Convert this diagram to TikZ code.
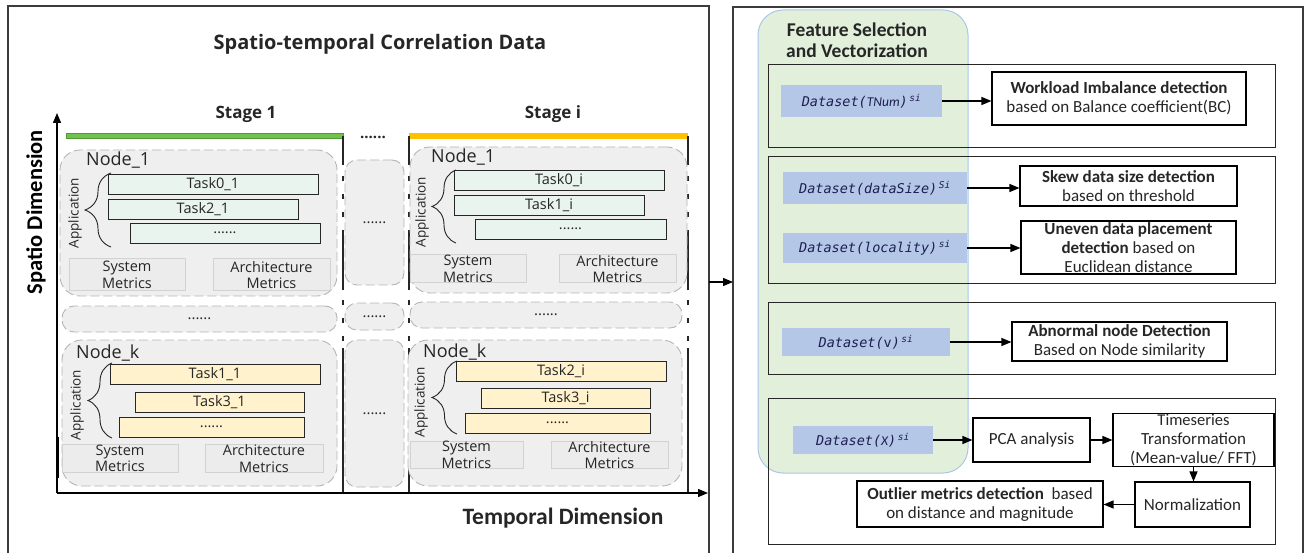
\documentclass[tikz,border=0pt]{standalone}
\usepackage{fontspec}
\setmainfont{Carlito}
\newfontfamily\os{Open Sans}
\newfontfamily\dm{DejaVu Sans Mono}
\usetikzlibrary{arrows.meta,decorations.pathreplacing}
\definecolor{gbf}{HTML}{EFEFEF}
\definecolor{gbd}{HTML}{B5B5B5}
\definecolor{taskg}{HTML}{E9F4EE}
\definecolor{tasky}{HTML}{FFF2CC}
\definecolor{metf}{HTML}{ECECEC}
\definecolor{metd}{HTML}{D2D2D2}
\definecolor{dsf}{HTML}{B4C7E7}
\definecolor{gpf}{HTML}{E2EFDA}
\definecolor{gpd}{HTML}{A9C8E8}
\definecolor{barg}{HTML}{72C34E}
\definecolor{bargd}{HTML}{4E9A35}
\definecolor{baro}{HTML}{FFC000}
\definecolor{dk}{HTML}{262626}
\newcommand\fs[2]{\fontsize{#1}{#2}\selectfont}
\newcommand\bx[6]{\node[#1,minimum width={(#4)-(#2)},minimum height={(#5)-(#3)}] (#6) at ({((#2)+(#4))/2},{((#3)+(#5))/2})}
\newcommand\ds[3]{{\dm\itshape Dataset(}#1{\dm\itshape)}\textsuperscript{\,\dm\itshape #2}}
\begin{document}
\begin{tikzpicture}[x=1pt,y=-1pt,
  gbox/.style={draw=gbd, fill=gbf, dash pattern=on 9pt off 4pt, line width=0.9pt, rounded corners=20pt, inner sep=0pt, font=\os\fs{15}{18}, text=dk},
  rbox/.style={gbox, rounded corners=12pt},
  task/.style={draw=black!85, line width=0.9pt, inner sep=0pt, font=\os\fs{14.5}{17}, text=dk},
  tg/.style={task, fill=taskg},
  ty/.style={task, fill=tasky},
  met/.style={draw=metd, fill=metf, line width=1pt, inner sep=0pt, align=center, font=\os\fs{14.5}{16.5}, text=dk},
  nlab/.style={anchor=base west, font=\os\fs{18}{20}, text=dk, inner sep=0pt},
  app/.style={rotate=90, font=\os\fs{13.5}{16}, text=dk, inner sep=0pt},
  brc/.style={draw=dk, line width=0.9pt, decorate, decoration={brace, amplitude=#1}},
  vl/.style={draw=dk, line width=1.3pt},
  vld/.style={vl, dash pattern=on 5pt off 13pt},
  arr/.style={draw=black, line width=1.2pt, -{Triangle[length=10pt,width=8pt]}},
  obox/.style={draw=dk, line width=1pt},
  wbox/.style={draw=black, fill=white, line width=1.1pt, inner sep=1pt, align=center, font=\fs{17}{19}, text=dk},
  dbox/.style={fill=dsf, inner sep=0pt, font=\fs{13.5}{15}, text=dk!80!blue}
]
\useasboundingbox (0,0) rectangle (1306,553);
% panels
\draw[draw=dk!90, line width=1.2pt] (8,570) -- (8,6) -- (709,6) -- (709,570);
\draw[draw=dk!90, line width=1.2pt] (733,570) -- (733,7) -- (1303,7) -- (1303,570);
% titles
\node[font=\os\bfseries\fs{20}{24}, text=dk] (title) at (380,44) {Spatio-temporal Correlation Data};
\node[font=\os\bfseries\fs{17}{20}, text=dk] (st1) at (246,114) {Stage 1};
\node[font=\os\bfseries\fs{17}{20}, text=dk] (sti) at (553,114) {Stage i};
\node[font=\bfseries\fs{22.5}{26}, rotate=90, text=black] (sdim) at (36,212) {Spatio Dimension};
\node[font=\bfseries\fs{23.5}{27}, text=dk] (tdim) at (563,518) {Temporal Dimension};
% axes
\coordinate (org) at (57,493);
\coordinate (ytop) at (57,113);
\coordinate (xend) at (708,493);
\draw[arr, line width=1.3pt] (org) -- (ytop);
\draw[arr, line width=1.3pt] (org) -- (xend);
\draw[draw=black, line width=3pt] (57,437) -- (57,478);
% bars
\draw[draw=bargd, fill=barg, line width=0.5pt] (66,133.5) rectangle (343,138.5);
\draw[draw=baro, fill=baro, line width=0.5pt] (409,133.5) rectangle (687,138.5);
% stage vertical lines
\foreach \xx in {343,409,688}{
  \draw[vl] (\xx,136) -- (\xx,165);
  \draw[vld] (\xx,176) -- (\xx,228);
  \draw[vl] (\xx,230) -- (\xx,290);
  \draw[vld] (\xx,300) -- (\xx,345);
  \draw[vl] (\xx,348) -- (\xx,492);
}
\node[font=\os\bfseries\fs{15}{18}, text=dk] (topdots) at (373,137) {......};
% ---------- Stage 1, Node_1
\bx{gbox}{60}{150}{337}{296}{n11} {};
\node[nlab] (l11) at (86,166) {Node\_1};
\bx{tg}{108}{174}{318}{194}{t01} {Task0\_1};
\bx{tg}{108}{199}{298}{219}{t21} {Task2\_1};
\bx{tg}{130}{223}{320}{243}{d11} {......};
\draw[brc=26pt] (111,247) -- (111,173);
\node[app] (a11) at (75,213) {Application};
\bx{met}{69}{259}{185}{291}{sm11} {System\\Metrics};
\bx{met}{213}{259}{330}{291}{am11} {Architecture\\Metrics};
% Stage 1 dots row
\bx{rbox}{62}{306}{337}{332}{r1} {......};
% Stage 1 Node_k
\bx{gbox}{62}{340}{337}{486}{nk1} {};
\node[nlab] (lk1) at (76,358) {Node\_k};
\bx{ty}{110}{364}{320}{384}{t11} {Task1\_1};
\bx{ty}{135}{392}{304}{412}{t31} {Task3\_1};
\bx{ty}{119}{417}{304}{437}{dk1} {......};
\draw[brc=24pt] (112,438) -- (112,363);
\node[app] (ak1) at (77,405) {Application};
\bx{met}{62}{445}{178}{472}{smk1} {System\\Metrics};
\bx{met}{205}{445}{323}{472}{amk1} {Architecture\\Metrics};
% middle column
\bx{rbox}{345}{160}{404}{285}{mc1} {......};
\bx{rbox}{345}{303}{404}{330}{mc2} {......};
\bx{rbox}{345}{340}{404}{487}{mc3} {......};
% ---------- Stage i, Node_1
\bx{gbox}{410}{147}{687}{293}{n1i} {};
\node[nlab] (l1i) at (431,163) {Node\_1};
\bx{tg}{454}{170}{664}{190}{t0i} {Task0\_i};
\bx{tg}{454}{195}{644}{215}{t1i} {Task1\_i};
\bx{tg}{475}{219}{666}{239}{d1i} {......};
\draw[brc=24pt] (456,243) -- (456,170);
\node[app] (a1i) at (422,212) {Application};
\bx{met}{410}{255}{526}{283}{sm1i} {System\\Metrics};
\bx{met}{559}{255}{676}{283}{am1i} {Architecture\\Metrics};
% Stage i dots row
\bx{rbox}{410}{302}{682}{328}{ri} {......};
% Stage i Node_k
\bx{gbox}{408}{340}{682}{486}{nki} {};
\node[nlab] (lki) at (423,357) {Node\_k};
\bx{ty}{456}{361}{666}{381}{t2i} {Task2\_i};
\bx{ty}{481}{388}{650}{408}{t3i} {Task3\_i};
\bx{ty}{465}{413}{650}{433}{dki} {......};
\draw[brc=25pt] (457,434) -- (457,361);
\node[app] (aki) at (421,402) {Application};
\bx{met}{410}{442}{523}{468}{smki} {System\\Metrics};
\bx{met}{551}{442}{668}{468}{amki} {Architecture\\Metrics};
% arrow between panels
\coordinate (lpe) at (709,282);
\coordinate (rpe) at (733,282);
\draw[arr] (lpe) -- (rpe);
% ---------- right panel
\draw[draw=gpd, fill=gpf, line width=1pt, rounded corners=25pt] (758,10) rectangle (968,473);
\node[align=center, font=\bfseries\fs{19.5}{21}, text=dk] (fsv) at (857,40) {Feature Selection\\and Vectorization};
\draw[obox] (768,65) rectangle (1275,148);
\draw[obox] (768,157) rectangle (1275,284);
\draw[obox] (768,302) rectangle (1275,374);
\draw[obox] (768,398) rectangle (1275,544);
\bx{dbox}{781}{85}{942}{117}{dA} {\ds{{\itshape TNum}}{si}{}};
\bx{wbox}{992}{72}{1246}{125}{wA} {{\bfseries Workload Imbalance detection}\\based on Balance coefficient(BC)};
\draw[arr] (dA) -- (dA -| wA.west);
\bx{dbox}{783}{172}{967}{204}{dB1} {\ds{{\dm\itshape dataSize}}{Si}{}};
\bx{wbox}{1020}{166}{1237}{206}{sB} {{\bfseries Skew data size detection}\\based on threshold};
\draw[arr] (dB1) -- (dB1 -| sB.west);
\bx{dbox}{783}{233}{967}{263}{dB2} {\ds{{\dm\itshape locality}}{si}{}};
\bx{wbox}{1021}{221}{1236}{274}{uB} {\fs{17}{17}{\bfseries Uneven data placement}\\{\bfseries detection} based on\\Euclidean distance};
\draw[arr] (dB2) -- (dB2 -| uB.west);
\bx{dbox}{782}{328}{950}{356}{dC} {\ds{{\dm v}}{si}{}};
\bx{wbox}{1012}{322}{1227}{361}{aC} {{\bfseries Abnormal node Detection}\\Based on Node similarity};
\draw[arr] (dC) -- (dC -| aC.west);
\bx{dbox}{793}{426}{933}{454}{dD} {\ds{{\itshape X}}{si}{}};
\bx{wbox}{973}{418}{1090}{462}{pca} {PCA analysis};
\bx{wbox}{1113}{418}{1274}{462}{ts} {\fs{16.5}{15}Timeseries\\Transformation\\(Mean-value/ FFT)};
\bx{wbox}{1135}{482}{1250}{527}{norm} {Normalization};
\bx{wbox}{857}{481}{1103}{527}{out} {{\bfseries Outlier metrics detection}~ based\\on distance and magnitude};
\draw[arr] (dD) -- (dD -| pca.west);
\draw[arr] (pca) -- (pca -| ts.west);
\draw[arr] (ts.south) -- (ts.south |- norm.north);
\draw[arr] (norm) -- (norm -| out.east);
\end{tikzpicture}
\end{document}
